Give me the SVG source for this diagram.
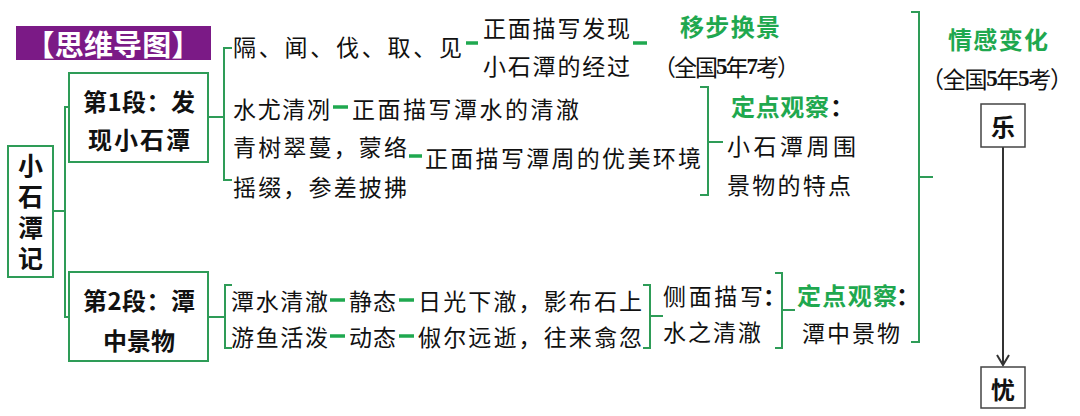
<svg xmlns="http://www.w3.org/2000/svg" width="1080" height="416" viewBox="0 0 1080 416">
<defs>
<style>
.t{font-family:"Noto Sans CJK SC","Liberation Sans",sans-serif;font-size:23px;fill:#111;dominant-baseline:central}
.b{font-weight:bold}
.g{fill:#1fa84f;font-weight:bold}
.n{font-family:"Liberation Serif","Noto Sans CJK SC",serif;font-weight:bold}
.box{fill:#fff;stroke:#2e9c57;stroke-width:2}
.gbox{fill:#fff;stroke:#444;stroke-width:1.5}
.br{fill:none;stroke:#2e9c57;stroke-width:2}
.dash{stroke:#1fa84f;stroke-width:3.5}
</style>
</defs>
<rect width="1080" height="416" fill="#fff"/>

<g id="title">
<rect x="16" y="26" width="195" height="34" fill="#7b1a86"/>
<text class="t b" x="113" y="43" text-anchor="middle" style="font-size:29px;fill:#fff" textLength="175">【思维导图】</text>
</g>

<g id="connectors">
<path class="br" d="M53,211 H65 M69,107 H65 V317 H69"/>
<path class="br" d="M208,117 H224 M232,48 H224 V180 H232"/>
<path class="br" d="M208,317 H225 M232,285 H225 V348 H232"/>
<path class="br" d="M700,87 H708 V195 H700 M708,142 H723"/>
<path class="br" d="M643,285 H650 V348 H643 M650,316 H663"/>
<path class="br" d="M775,273 H782 V348 H775 M782,310 H795"/>
<path class="br" d="M911,12 H919 V342 H911 M919,177 H933"/>
<line class="dash" x1="466" y1="43" x2="478" y2="43"/>
<line class="dash" x1="633" y1="43" x2="647" y2="43"/>
<line class="dash" x1="333" y1="107" x2="348" y2="107"/>
<line class="dash" x1="409" y1="156" x2="422" y2="156"/>
<line class="dash" x1="330" y1="300" x2="345" y2="300"/>
<line class="dash" x1="399" y1="300" x2="414" y2="300"/>
<line class="dash" x1="330" y1="336" x2="345" y2="336"/>
<line class="dash" x1="399" y1="336" x2="414" y2="336"/>
<line x1="1003" y1="147" x2="1003" y2="365" stroke="#333" stroke-width="2"/>
<path d="M997,355 L1003,365 L1009,355" fill="none" stroke="#333" stroke-width="2"/>
</g>

<g id="root">
<rect class="box" x="8" y="146" width="45" height="131"/>
<text x="30.5" y="215" text-anchor="middle" style="font-family:'Noto Sans CJK SC',sans-serif;font-weight:bold;font-size:25px;fill:#111;writing-mode:vertical-rl;letter-spacing:6px">小石潭记</text>
</g>

<g id="para1">
<rect class="box" x="69" y="73" width="139" height="89"/>
<text class="t b" x="83" y="100" style="font-size:24px" textLength="112">第1段：发</text>
<text class="t b" x="88" y="138" style="font-size:24px" textLength="102">现小石潭</text>
</g>

<g id="para2">
<rect class="box" x="69" y="272" width="139" height="89"/>
<text class="t b" x="83" y="299" style="font-size:24px" textLength="112">第2段：潭</text>
<text class="t b" x="103" y="339" style="font-size:24px" textLength="72">中景物</text>
</g>

<g id="p1-discover">
<text class="t" x="233" y="46" textLength="229">隔、闻、伐、取、见</text>
<text class="t" x="483" y="27" textLength="147">正面描写发现</text>
<text class="t" x="483" y="65" textLength="147">小石潭的经过</text>
</g>

<g id="p1-move">
<text class="t g" x="680" y="25" style="font-size:24px" textLength="100">移步换景</text>
<text class="t" x="653" y="66" textLength="147">（全国<tspan class="n">5</tspan>年<tspan class="n">7</tspan>考）</text>
</g>

<g id="p1-water">
<text class="t" x="233" y="108" textLength="97">水尤清冽</text>
<text class="t" x="352" y="108" textLength="227">正面描写潭水的清澈</text>
</g>

<g id="p1-env">
<text class="t" x="233" y="146" textLength="174">青树翠蔓，蒙络</text>
<text class="t" x="233" y="186" textLength="174">摇缀，参差披拂</text>
<text class="t" x="425" y="157" textLength="276">正面描写潭周的优美环境</text>
</g>

<g id="p1-fixed">
<text class="t g" x="731" y="105" style="font-size:24px" textLength="98">定点观察</text>
<text class="t b" x="830" y="105" style="font-size:24px">：</text>
<text class="t" x="727" y="145" textLength="129">小石潭周围</text>
<text class="t" x="727" y="184" textLength="124">景物的特点</text>
</g>

<g id="p2-static">
<text class="t" x="231" y="300" textLength="97">潭水清澈</text>
<text class="t" x="349" y="300" textLength="47">静态</text>
<text class="t" x="418" y="300" textLength="224">日光下澈，影布石上</text>
</g>

<g id="p2-dynamic">
<text class="t" x="231" y="336" textLength="97">游鱼活泼</text>
<text class="t" x="349" y="336" textLength="47">动态</text>
<text class="t" x="418" y="336" textLength="224">俶尔远逝，往来翕忽</text>
</g>

<g id="p2-side">
<text class="t" x="663" y="295" textLength="100">侧面描写</text>
<text class="t b" x="763" y="295">：</text>
<text class="t" x="663" y="331" textLength="98">水之清澈</text>
</g>

<g id="p2-fixed">
<text class="t g" x="797" y="294" style="font-size:24px" textLength="100">定点观察</text>
<text class="t b" x="896" y="294" style="font-size:24px">：</text>
<text class="t" x="802" y="332" textLength="98">潭中景物</text>
</g>

<g id="emotion">
<text class="t g" x="948" y="38" style="font-size:24px" textLength="100">情感变化</text>
<text class="t" x="921" y="78" textLength="152">（全国<tspan class="n">5</tspan>年<tspan class="n">5</tspan>考）</text>
</g>

<g id="joy">
<rect class="gbox" x="981" y="104" width="44" height="43"/>
<text class="t b" x="1003" y="125" text-anchor="middle" style="font-size:24px">乐</text>
</g>

<g id="sorrow">
<rect class="gbox" x="981" y="367" width="44" height="41"/>
<text class="t b" x="1003" y="388" text-anchor="middle" style="font-size:24px">忧</text>
</g>
</svg>
